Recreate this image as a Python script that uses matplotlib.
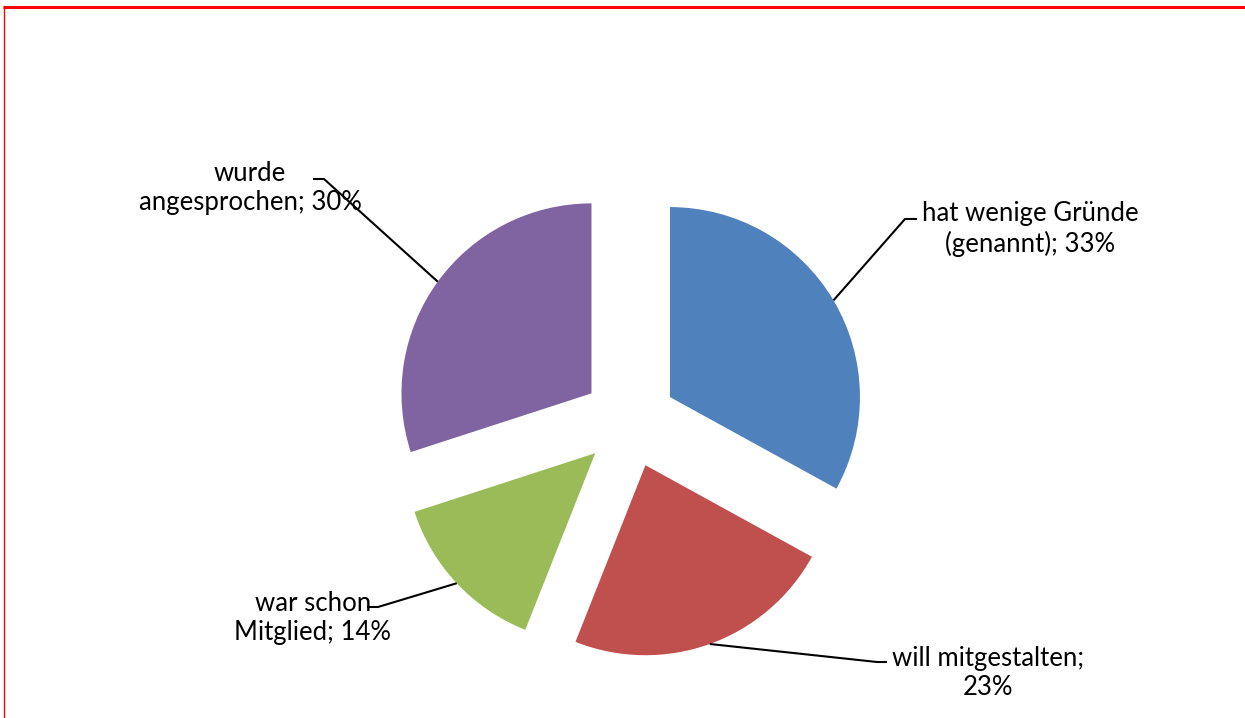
import matplotlib.pyplot as plt
import numpy as np

# Daten
kategorien = ["hat wenige Gründe\n(genannt)", "will mitgestalten;\n", "war schon\nMitglied", "wurde\nangesprochen"]
werte = [33, 23, 14, 30]
farben = ["#4F81BD", "#C0504D", "#9BBB59", "#8064A2"]

plt.rcParams['font.family'] = ['Lato', 'DejaVu Sans']

W, H = 1245, 718
fig = plt.figure(figsize=(W / 100, H / 100), dpi=100)
ax = fig.add_axes([0, 0, 1, 1])

# Kreisdiagramm, Segmente auseinandergezogen (explode in Pixeln)
mitte = (629.5, H - 421)
radius = 190
wedges, _ = ax.pie(werte, colors=farben, startangle=90, counterclock=False,
                   explode=[47] * len(werte), radius=radius, center=mitte,
                   frame=True, wedgeprops=dict(linewidth=0))
ax.set_xlim(0, W)
ax.set_ylim(0, H)
ax.set_aspect('equal')
ax.axis('off')

# Beschriftungen: Text, Position, Knick der Linie
texte = [
    ("hat wenige Gründe\n(genannt); %d%%" % werte[0], (1030, H - 229), (905, 917, H - 219)),
    ("will mitgestalten;\n%d%%" % werte[1], (988, H - 673), (877, 887, H - 662)),
    ("war schon\nMitglied; %d%%" % werte[2], (313, H - 618), (378, 367, H - 607)),
    ("wurde\nangesprochen; %d%%" % werte[3], (250, H - 188), (324, 313, H - 179)),
]

for w, (txt, pos, (xk, xe, yk)) in zip(wedges, texte):
    mid = np.deg2rad((w.theta1 + w.theta2) / 2)
    cx, cy = w.center
    px = cx + w.r * np.cos(mid)
    py = cy + w.r * np.sin(mid)
    ax.plot([px, xk, xe], [py, yk, yk], color='black', lw=1.5, solid_capstyle='butt')
    ax.text(pos[0], pos[1], txt, ha='center', va='center', multialignment='center',
            fontsize=18.5, color='black', linespacing=1.2)

# roter Rahmen
ax.plot([3, W], [H - 6.5, H - 6.5], color='#FF0000', lw=2.2, clip_on=False, solid_capstyle='butt')
ax.plot([3.5, 3.5], [0, H - 6.5], color='#FF0000', lw=1.0, clip_on=False, solid_capstyle='butt')

fig.savefig('out.png', dpi=100)
